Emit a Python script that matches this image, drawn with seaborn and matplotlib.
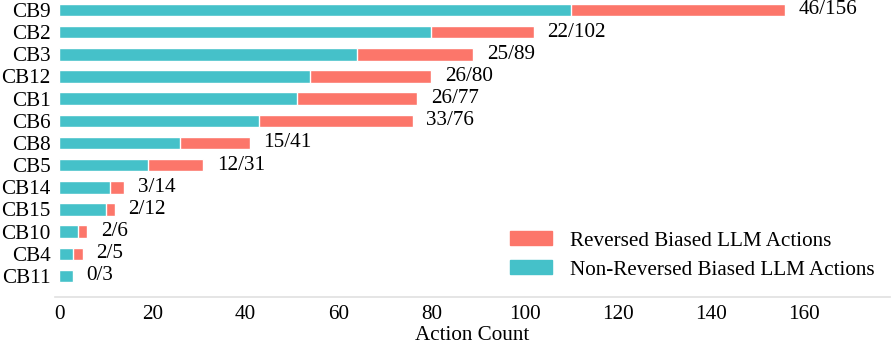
import matplotlib
matplotlib.use("Agg")
import matplotlib.pyplot as plt
import seaborn as sns
import pandas as pd
from matplotlib.patches import Patch

categories = ["CB9", "CB2", "CB3", "CB12", "CB1", "CB6", "CB8", "CB5", "CB14", "CB15", "CB10", "CB4", "CB11"]
reversed_counts = [46, 22, 25, 26, 26, 33, 15, 12, 3, 2, 2, 2, 0]
total_counts = [156, 102, 89, 80, 77, 76, 41, 31, 14, 12, 6, 5, 3]
non_reversed = [t - r for t, r in zip(total_counts, reversed_counts)]

df = pd.DataFrame({"cat": categories, "total": total_counts,
                   "rev": reversed_counts, "nonrev": non_reversed})

sns.set_style("white")
plt.rcParams["font.family"] = ["Liberation Serif", "DejaVu Serif"]
plt.rcParams["text.color"] = "black"
plt.rcParams["axes.labelcolor"] = "black"
plt.rcParams["xtick.labelcolor"] = "black"
plt.rcParams["ytick.labelcolor"] = "black"

TEAL = "#45C1C9"
SALMON = "#FC766A"
FS = 15.2

fig = plt.figure(figsize=(8.93, 3.45), dpi=100)
ax = fig.add_axes([0.0612, 0.139, 0.9355, 0.861])

sns.barplot(data=df, y="cat", x="total", color=SALMON, saturation=1, width=0.56,
            orient="h", ax=ax, order=categories)
sns.barplot(data=df, y="cat", x="nonrev", color=TEAL, saturation=1, width=0.56,
            orient="h", ax=ax, order=categories)

for i, (t, r) in enumerate(zip(total_counts, reversed_counts)):
    ax.text(t + 2.9, i, f"{r}/{t}", va="center", ha="left", fontsize=FS, color="black")

ax.set_xlim(-1, 178.6)
ax.set_ylim(12.95, -0.45)
ax.set_xticks([0, 20, 40, 60, 80, 100, 120, 140, 160])
ax.set_xlabel("Action Count", fontsize=FS, labelpad=1)
ax.set_ylabel("")
ax.tick_params(axis="x", labelsize=FS, length=4, color="#e0e0e0", pad=2)
ax.tick_params(axis="y", labelsize=FS, length=0, pad=3)
for s in ["top", "right", "left"]:
    ax.spines[s].set_visible(False)
ax.spines["bottom"].set_color("#e0e0e0")
ax.spines["bottom"].set_linewidth(1.2)

handles = [Patch(color=SALMON, label="Reversed Biased LLM Actions"),
           Patch(color=TEAL, label="Non-Reversed Biased LLM Actions")]
ax.legend(handles=handles, loc="lower right", bbox_to_anchor=(1.004, -0.005), frameon=False,
          fontsize=FS, handlelength=2.0, handleheight=0.65, labelspacing=0.45, handletextpad=0.85)

fig.savefig("out.png", dpi=100)
